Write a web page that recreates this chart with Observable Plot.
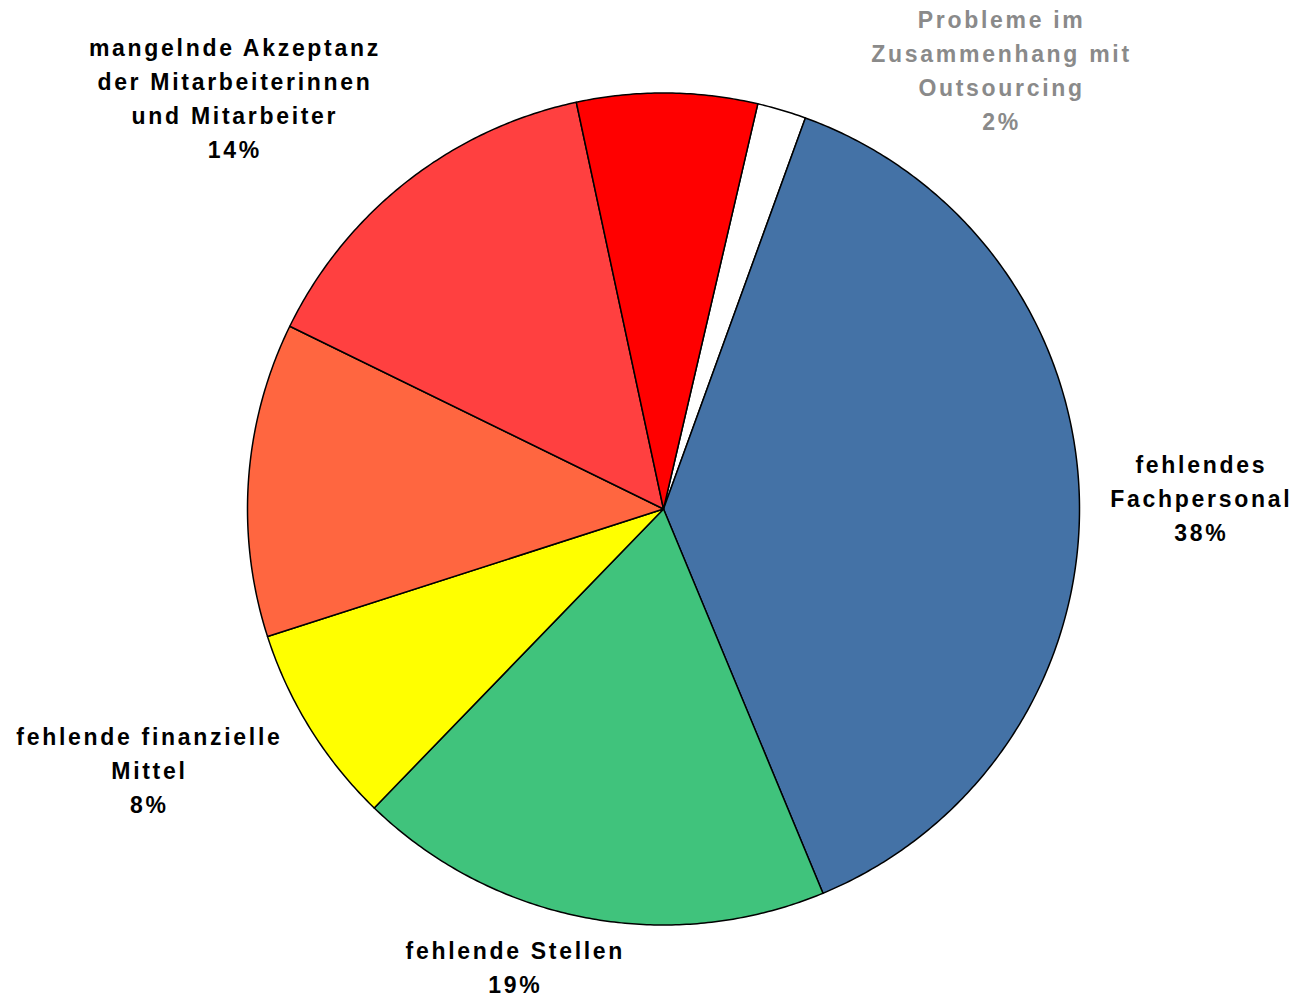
<!DOCTYPE html>
<html>
<head>
<meta charset="utf-8">
<script src="https://cdn.jsdelivr.net/npm/d3@7"></script>
<script src="https://cdn.jsdelivr.net/npm/@observablehq/plot@0.6"></script>
<style>
  html, body { margin: 0; padding: 0; background: #fff; }
  #chart svg text { letter-spacing: 2.7px; }
</style>
</head>
<body>
<div id="chart"></div>
<script>
// ---- data (clockwise, starting with the small white slice) ----
const categories = [
  "Probleme im Zusammenhang mit Outsourcing",
  "fehlendes Fachpersonal",
  "fehlende Stellen",
  "fehlende finanzielle Mittel",
  "sonstige (orange)",
  "mangelnde Akzeptanz der Mitarbeiterinnen und Mitarbeiter",
  "sonstige (rot)"
];
const values = [1.9, 38.2, 18.5, 7.8, 12.2, 14.4, 7.0];
const percentLabels = ["2%", "38%", "19%", "8%", "", "14%", ""];
const labelTexts = [
  "Probleme im\nZusammenhang mit\nOutsourcing",
  "fehlendes\nFachpersonal",
  "fehlende Stellen",
  "fehlende finanzielle\nMittel",
  "",
  "mangelnde Akzeptanz\nder Mitarbeiterinnen\nund Mitarbeiter",
  ""
];
const colors = ["#FFFFFF", "#4472A6", "#40C37C", "#FFFF00", "#FF6640", "#FF4040", "#FF0000"];
const labelColors = ["#8a8a8a", "#000", "#000", "#000", "#000", "#000", "#000"];

// ---- layout (not data) ----
const startAngleDeg = 13.1;              // where the first slice begins, clockwise from 12 o'clock
const labelAnchors = [                    // [angle deg, radius in pie radii] of each label's centre
  [37.7, 1.329], [88.9, 1.293], [197.9, 1.159], [243.0, 1.387], null, [313.7, 1.425], null
];

// ---- geometry from the values ----
const total = d3.sum(values);
const rad = Math.PI / 180;
let acc = startAngleDeg * rad;
const slices = values.map((v, i) => {
  const a0 = acc, a1 = acc + (v / total) * 2 * Math.PI;
  acc = a1;
  const n = Math.max(4, Math.ceil((a1 - a0) / (0.5 * rad)));
  const ring = [[0, 0]];
  for (let k = 0; k <= n; k++) {
    const a = a0 + (a1 - a0) * k / n;
    ring.push([Math.sin(a), -Math.cos(a)]);
  }
  ring.push([0, 0]);
  return {type: "Feature", properties: {name: categories[i], color: colors[i]},
          geometry: {type: "Polygon", coordinates: [ring]}};
});

const labels = labelAnchors.map((la, i) => {
  if (!la) return null;
  const a = la[0] * rad;
  return {x: la[1] * Math.sin(a), y: -la[1] * Math.cos(a),
          text: labelTexts[i] + "\n" + percentLabels[i], color: labelColors[i]};
}).filter(d => d);

const chart = Plot.plot({
  width: 1301,
  height: 999,
  marginLeft: 247,
  marginRight: 222,
  marginTop: 92.5,
  marginBottom: 74.5,
  projection: {type: "identity", clip: false, domain: {type: "MultiPoint", coordinates: [[-1, -1], [1, 1]]}},
  marks: [
    Plot.geo(slices, {fill: d => d.properties.color, stroke: "#000", strokeWidth: 1.5, strokeLinejoin: "round"}),
    Plot.text(labels, {
      x: "x", y: "y", text: "text", fill: d => d.color, dy: -3,
      fontSize: 23, fontWeight: "bold", fontFamily: "Liberation Sans, Arial, sans-serif",
      lineHeight: 1.48, textAnchor: "middle", clip: false
    })
  ]
});
document.getElementById("chart").appendChild(chart);
</script>
</body>
</html>
